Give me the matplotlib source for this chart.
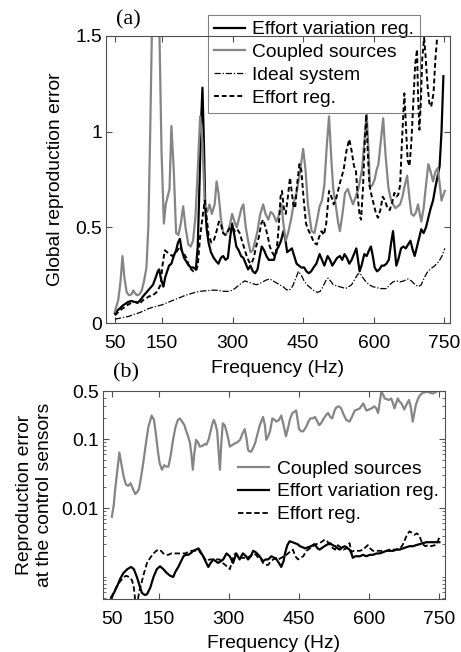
import numpy as np
import matplotlib
matplotlib.use("Agg")
import matplotlib.pyplot as plt
from matplotlib.ticker import LogLocator, NullFormatter, FixedLocator

plt.rcParams['font.family'] = ['Liberation Sans', 'DejaVu Sans']

# ---------------- (a) global reproduction error ----------------
coupled_a_f = [50, 57, 62, 66, 70, 75, 80, 85, 89, 93, 97, 102, 107, 112, 117, 121, 125, 129, 134, 139,
               144, 149, 154, 158, 162, 166, 170, 175, 180, 185, 190, 195, 200, 206, 211, 216, 221, 226,
               231, 236, 241, 246, 251, 256, 262, 266, 270, 275, 280, 285, 290, 295, 299, 304, 309, 314,
               319, 323, 328, 333, 338, 343, 348, 353, 358, 365, 370, 376, 381, 386, 393, 398, 404, 408,
               413, 418, 425, 431, 436, 442, 450, 455, 460, 468, 474, 479, 485, 490, 495, 500, 505, 510,
               514, 519, 524, 528, 533, 539, 545, 550, 556, 562, 568, 575, 580, 585, 589, 592, 597, 602,
               606, 610, 615, 620, 625, 631, 636, 641, 646, 651, 656, 661, 666, 671, 676, 680, 685, 690,
               694, 698, 701, 706, 711, 716, 721, 726, 731, 736, 740, 744, 748, 751]
coupled_a = [0.06, 0.12, 0.22, 0.35, 0.24, 0.16, 0.145, 0.15, 0.17, 0.155, 0.145, 0.15, 0.17, 0.22, 0.29,
             0.5, 1.0, 1.6, 2.3, 2.3, 1.6, 0.9, 0.52, 0.62, 0.66, 0.70, 1.03, 0.8, 0.47, 0.46, 0.52, 0.61,
             0.50, 0.41, 0.40, 0.43, 0.55, 0.8, 1.08, 0.95, 0.61, 0.58, 0.62, 0.57, 0.62, 0.74, 0.68, 0.55,
             0.47, 0.46, 0.48, 0.52, 0.57, 0.53, 0.50, 0.55, 0.60, 0.62, 0.50, 0.43, 0.37, 0.38, 0.43, 0.48,
             0.56, 0.62, 0.57, 0.54, 0.58, 0.57, 0.53, 0.56, 0.62, 0.52, 0.43, 0.47, 0.55, 0.64, 0.68, 0.77,
             0.91, 0.80, 0.62, 0.48, 0.47, 0.53, 0.61, 0.64, 0.72, 0.92, 1.08, 0.85, 0.70, 0.62, 0.53, 0.48,
             0.56, 0.68, 0.70, 0.66, 0.62, 0.66, 0.71, 0.80, 0.95, 1.09, 0.90, 0.71, 0.72, 0.75, 0.80, 0.83,
             0.95, 1.07, 0.88, 0.71, 0.65, 0.62, 0.60, 0.61, 0.62, 0.66, 0.72, 0.77, 0.65, 0.57, 0.56, 0.58,
             0.62, 0.57, 0.53, 0.60, 0.72, 0.83, 0.79, 0.74, 0.79, 0.81, 0.73, 0.64, 0.67, 0.69]

effvar_a_f = [50, 55, 60, 66, 72, 78, 85, 92, 98, 104, 110, 117, 124, 131, 137, 141, 144, 148, 153, 157,
              161, 165, 170, 175, 180, 184, 188, 192, 197, 202, 207, 212, 217, 222, 226, 230, 233, 236,
              239, 242, 245, 249, 254, 260, 266, 270, 275, 280, 285, 290, 295, 299, 303, 308, 313, 318,
              323, 328, 333, 338, 343, 348, 353, 358, 362, 367, 372, 377, 382, 388, 393, 398, 403, 408,
              412, 416, 421, 426, 431, 436, 441, 446, 452, 457, 462, 467, 472, 478, 485, 490, 495, 502,
              507, 512, 517, 522, 528, 533, 538, 543, 548, 553, 558, 563, 567, 570, 574, 580, 585, 590,
              594, 598, 602, 607, 612, 617, 622, 627, 632, 637, 641, 644, 648, 652, 658, 663, 668, 673,
              678, 683, 687, 692, 697, 701, 706, 711, 716, 721, 726, 731, 736, 740, 744, 748]
effvar_a = [0.05, 0.065, 0.075, 0.09, 0.10, 0.11, 0.115, 0.11, 0.105, 0.12, 0.14, 0.16, 0.18, 0.20, 0.24,
            0.27, 0.28, 0.23, 0.19, 0.24, 0.27, 0.30, 0.31, 0.35, 0.38, 0.42, 0.44, 0.38, 0.34, 0.32, 0.30,
            0.29, 0.29, 0.28, 0.40, 0.75, 1.05, 1.23, 0.95, 0.60, 0.49, 0.42, 0.37, 0.34, 0.32, 0.31, 0.34,
            0.35, 0.33, 0.34, 0.45, 0.52, 0.47, 0.40, 0.38, 0.35, 0.34, 0.31, 0.28, 0.30, 0.27, 0.26, 0.28,
            0.35, 0.40, 0.38, 0.35, 0.33, 0.33, 0.33, 0.38, 0.40, 0.43, 0.48, 0.44, 0.37, 0.38, 0.39, 0.35,
            0.31, 0.30, 0.29, 0.29, 0.27, 0.26, 0.27, 0.29, 0.31, 0.36, 0.33, 0.30, 0.35, 0.33, 0.30, 0.32,
            0.34, 0.35, 0.33, 0.36, 0.34, 0.31, 0.33, 0.36, 0.39, 0.32, 0.27, 0.30, 0.36, 0.35, 0.38, 0.40,
            0.35, 0.29, 0.27, 0.28, 0.30, 0.30, 0.31, 0.33, 0.42, 0.48, 0.40, 0.30, 0.33, 0.39, 0.40, 0.39,
            0.41, 0.43, 0.38, 0.35, 0.40, 0.45, 0.49, 0.47, 0.50, 0.55, 0.60, 0.64, 0.71, 0.77, 0.82, 1.00,
            1.29]

ideal_a_f = [50, 60, 70, 80, 90, 100, 110, 120, 130, 140, 150, 160, 170, 180, 190, 200, 210, 220, 230,
             240, 250, 260, 270, 280, 290, 298, 305, 312, 320, 326, 332, 338, 344, 350, 357, 364, 372,
             379, 386, 393, 400, 407, 414, 420, 427, 434, 440, 446, 452, 458, 465, 472, 480, 486, 492,
             498, 503, 508, 514, 520, 527, 534, 540, 547, 553, 560, 566, 571, 576, 582, 590, 598, 606,
             614, 620, 627, 634, 641, 648, 656, 664, 672, 680, 688, 695, 701, 708, 715, 722, 730, 738,
             745, 751]
ideal_a = [0.02, 0.025, 0.03, 0.035, 0.045, 0.052, 0.062, 0.074, 0.082, 0.088, 0.095, 0.105, 0.115, 0.125,
           0.135, 0.145, 0.152, 0.160, 0.165, 0.168, 0.17, 0.172, 0.17, 0.166, 0.165, 0.17, 0.18, 0.195,
           0.21, 0.22, 0.215, 0.21, 0.205, 0.20, 0.205, 0.215, 0.225, 0.23, 0.22, 0.21, 0.20, 0.19, 0.175,
           0.17, 0.19, 0.23, 0.27, 0.25, 0.22, 0.20, 0.185, 0.17, 0.16, 0.165, 0.19, 0.22, 0.235, 0.22,
           0.20, 0.195, 0.19, 0.185, 0.18, 0.19, 0.20, 0.23, 0.255, 0.26, 0.24, 0.22, 0.20, 0.19, 0.185,
           0.18, 0.18, 0.18, 0.20, 0.215, 0.22, 0.215, 0.22, 0.23, 0.22, 0.20, 0.19, 0.20, 0.24, 0.27,
           0.285, 0.30, 0.32, 0.35, 0.39]

effort_a_f = [50, 58, 66, 74, 81, 88, 95, 102, 110, 117, 123, 128, 133, 138, 143, 147, 151, 156, 161, 166,
              172, 177, 183, 188, 192, 197, 202, 207, 212, 217, 222, 226, 231, 236, 241, 245, 249, 255,
              260, 266, 271, 275, 280, 285, 290, 295, 300, 305, 310, 315, 320, 325, 330, 335, 340, 345,
              350, 356, 361, 365, 370, 375, 379, 384, 389, 393, 398, 402, 405, 409, 413, 418, 422, 425,
              429, 433, 437, 442, 446, 451, 456, 462, 468, 473, 479, 484, 489, 494, 499, 505, 510, 515,
              520, 525, 530, 536, 542, 548, 553, 558, 562, 566, 570, 573, 577, 581, 584, 588, 591, 594,
              600, 605, 609, 614, 619, 624, 629, 634, 639, 644, 648, 652, 656, 660, 665, 668, 672, 676,
              680, 684, 688, 692, 694, 697, 700, 703, 707, 710, 714, 718, 722, 727, 731, 735, 738, 745,
              751]
effort_a = [0.04, 0.06, 0.075, 0.09, 0.10, 0.11, 0.11, 0.10, 0.12, 0.13, 0.14, 0.14, 0.15, 0.16, 0.18,
            0.20, 0.30, 0.38, 0.37, 0.36, 0.35, 0.36, 0.38, 0.40, 0.38, 0.36, 0.34, 0.30, 0.28, 0.27, 0.27,
            0.30, 0.45, 0.55, 0.64, 0.55, 0.46, 0.42, 0.43, 0.48, 0.53, 0.52, 0.47, 0.46, 0.48, 0.50, 0.50,
            0.48, 0.49, 0.47, 0.43, 0.39, 0.35, 0.32, 0.31, 0.34, 0.40, 0.45, 0.52, 0.54, 0.50, 0.45, 0.40,
            0.37, 0.35, 0.36, 0.50, 0.66, 0.69, 0.60, 0.57, 0.67, 0.76, 0.70, 0.62, 0.60, 0.72, 0.83, 0.80,
            0.65, 0.52, 0.48, 0.45, 0.42, 0.41, 0.45, 0.48, 0.46, 0.52, 0.69, 0.66, 0.62, 0.65, 0.70, 0.75,
            0.80, 0.90, 0.96, 0.90, 0.82, 0.80, 0.66, 0.56, 0.54, 0.70, 0.95, 1.09, 0.85, 0.72, 0.68, 0.62,
            0.57, 0.55, 0.59, 0.66, 0.64, 0.60, 0.59, 0.63, 0.68, 0.66, 0.67, 0.72, 0.95, 1.20, 1.05, 0.85,
            0.82, 0.95, 1.15, 1.35, 1.43, 1.20, 1.01, 1.15, 1.38, 1.49, 1.40, 1.25, 1.15, 1.13, 1.20, 1.38,
            1.50, 1.62, 1.70, 1.75]

# ---------------- (b) reproduction error at the control sensors ----------------
coupled_b_f = [50, 54, 57, 61, 66, 70, 75, 80, 85, 90, 95, 100, 104, 108, 113, 117, 122, 128, 135, 140,
               144, 148, 152, 157, 162, 166, 171, 176, 181, 186, 191, 195, 200, 205, 209, 213, 217, 220,
               223, 226, 230, 234, 238, 244, 248, 252, 257, 261, 265, 268, 272, 275, 278, 281, 284, 287,
               291, 295, 299, 302, 307, 313, 318, 324, 329, 334, 338, 341, 345, 348, 352, 356, 360, 365,
               369, 373, 377, 380, 384, 388, 393, 398, 402, 407, 412, 417, 422, 427, 431, 436, 440, 444,
               450, 455, 459, 465, 470, 474, 479, 484, 489, 493, 497, 501, 507, 512, 517, 521, 526, 530,
               535, 540, 545, 551, 558, 563, 569, 575, 580, 587, 591, 594, 600, 605, 611, 615, 619, 623,
               626, 630, 633, 638, 642, 647, 651, 654, 658, 661, 665, 669, 675, 680, 685, 689, 693, 697,
               700, 704, 707, 711, 714, 720, 725, 730, 736, 742, 746, 750]
coupled_b = [0.0075, 0.011, 0.0186, 0.032, 0.064, 0.045, 0.029, 0.022, 0.021, 0.023, 0.019, 0.016, 0.017,
             0.019, 0.03, 0.045, 0.08, 0.15, 0.22, 0.19, 0.12, 0.07, 0.045, 0.036, 0.042, 0.04, 0.040, 0.06,
             0.1, 0.15, 0.19, 0.2, 0.18, 0.16, 0.13, 0.11, 0.087, 0.06, 0.036, 0.06, 0.098, 0.09, 0.078,
             0.08, 0.085, 0.083, 0.1, 0.13, 0.17, 0.19, 0.16, 0.13, 0.07, 0.036, 0.09, 0.17, 0.16, 0.13,
             0.1, 0.078, 0.082, 0.087, 0.09, 0.098, 0.12, 0.14, 0.1, 0.07, 0.066, 0.066, 0.075, 0.087,
             0.11, 0.15, 0.18, 0.21, 0.16, 0.098, 0.11, 0.13, 0.2, 0.19, 0.18, 0.19, 0.22, 0.16, 0.11,
             0.15, 0.2, 0.24, 0.25, 0.26, 0.14, 0.13, 0.13, 0.15, 0.18, 0.2, 0.2, 0.21, 0.18, 0.16, 0.17,
             0.19, 0.22, 0.24, 0.21, 0.2, 0.26, 0.29, 0.30, 0.28, 0.23, 0.19, 0.18, 0.21, 0.26, 0.27,
             0.28, 0.33, 0.29, 0.26, 0.27, 0.28, 0.30, 0.28, 0.24, 0.36, 0.49, 0.44, 0.39, 0.38, 0.37,
             0.39, 0.33, 0.28, 0.34, 0.39, 0.35, 0.33, 0.27, 0.32, 0.37, 0.29, 0.18, 0.25, 0.32, 0.38,
             0.42, 0.45, 0.47, 0.48, 0.49, 0.47, 0.46, 0.48, 0.50, 0.51]

effvar_b_f = [48, 55, 61, 68, 75, 83, 91, 97, 103, 108, 114, 120, 125, 132, 139, 146, 153, 160, 167, 174,
              181, 186, 192, 198, 203, 208, 213, 218, 224, 230, 235, 240, 245, 250, 256, 261, 267, 272,
              277, 283, 288, 295, 302, 309, 316, 323, 330, 337, 341, 347, 352, 357, 363, 368, 373, 379,
              384, 391, 397, 402, 407, 412, 417, 420, 425, 430, 436, 441, 447, 452, 458, 463, 469, 476,
              483, 490, 494, 501, 508, 516, 522, 527, 533, 537, 543, 548, 554, 558, 562, 565, 570, 576,
              580, 587, 594, 601, 608, 616, 622, 630, 637, 644, 651, 658, 665, 672, 679, 686, 694, 700,
              708, 715, 722, 729, 736, 743, 750]
effvar_b = [0.0005, 0.0006, 0.00073, 0.00095, 0.00115, 0.0013, 0.0014, 0.0013, 0.00102, 0.0008, 0.00059,
            0.00055, 0.00056, 0.0007, 0.001, 0.0013, 0.00143, 0.0013, 0.00115, 0.00105, 0.001, 0.0012,
            0.0014, 0.0017, 0.002, 0.0021, 0.0021, 0.0022, 0.0024, 0.0025, 0.0026, 0.0023, 0.002, 0.0017,
            0.0014, 0.0016, 0.0018, 0.0017, 0.0016, 0.0017, 0.0018, 0.0022, 0.002, 0.0016, 0.0022, 0.0018,
            0.0022, 0.002, 0.0018, 0.002, 0.0024, 0.0023, 0.0021, 0.0019, 0.0017, 0.0018, 0.0018, 0.002,
            0.0019, 0.0018, 0.0016, 0.0014, 0.0017, 0.0022, 0.0029, 0.0033, 0.0032, 0.0031, 0.003, 0.0028,
            0.0027, 0.0026, 0.0027, 0.0028, 0.003, 0.0026, 0.0025, 0.0027, 0.0029, 0.0031, 0.0029, 0.0028,
            0.0026, 0.0025, 0.0027, 0.0028, 0.0026, 0.0025, 0.0022, 0.0019, 0.002, 0.002, 0.002, 0.0021,
            0.002, 0.0021, 0.0021, 0.0022, 0.0022, 0.0023, 0.0024, 0.0024, 0.0024, 0.0025, 0.0025, 0.0026,
            0.0027, 0.0028, 0.0028, 0.0029, 0.003, 0.0031, 0.0032, 0.0032, 0.0032, 0.0032, 0.0032]

effort_b_f = [50, 54, 61, 68, 75, 81, 87, 93, 97, 100, 104, 108, 113, 118, 125, 132, 139, 145, 150, 155,
              160, 166, 171, 177, 184, 192, 199, 206, 213, 220, 228, 235, 240, 245, 252, 259, 266, 273,
              280, 287, 292, 297, 302, 306, 310, 314, 319, 324, 331, 338, 345, 352, 358, 363, 369, 373,
              379, 384, 390, 395, 401, 406, 412, 418, 423, 430, 437, 442, 448, 453, 459, 466, 473, 480,
              487, 494, 500, 505, 510, 515, 520, 527, 533, 539, 545, 551, 555, 558, 562, 567, 573, 580,
              587, 592, 597, 602, 608, 615, 623, 630, 637, 644, 651, 658, 665, 670, 675, 680, 686, 691,
              697, 702, 707, 711, 714, 720, 726, 733, 740, 745, 751]
effort_b = [0.0005, 0.00059, 0.00075, 0.00087, 0.001, 0.00104, 0.001, 0.0009, 0.0007, 0.00045, 0.0004,
            0.0006, 0.0008, 0.0011, 0.0016, 0.0019, 0.0022, 0.0024, 0.0025, 0.0024, 0.0022, 0.0021,
            0.0021, 0.0022, 0.0022, 0.0022, 0.0022, 0.0022, 0.0023, 0.0024, 0.0024, 0.0025, 0.0022, 0.002,
            0.0017, 0.0018, 0.0018, 0.0018, 0.0018, 0.0016, 0.0015, 0.0014, 0.0013, 0.0016, 0.002, 0.0022,
            0.002, 0.0019, 0.0019, 0.0019, 0.002, 0.0022, 0.0021, 0.0019, 0.0018, 0.0016, 0.0015, 0.0015,
            0.0017, 0.0018, 0.0019, 0.0018, 0.0019, 0.002, 0.0021, 0.0023, 0.0025, 0.002, 0.0018, 0.0019,
            0.002, 0.0024, 0.0026, 0.0028, 0.003, 0.0031, 0.0033, 0.0035, 0.0033, 0.003, 0.0027, 0.0025,
            0.0029, 0.0027, 0.0025, 0.0026, 0.0029, 0.0031, 0.0023, 0.0024, 0.0024, 0.0024, 0.0025, 0.0027,
            0.0029, 0.0026, 0.0024, 0.0024, 0.0024, 0.0024, 0.0024, 0.0025, 0.0025, 0.0025, 0.0026, 0.0028,
            0.0033, 0.004, 0.0046, 0.0044, 0.0041, 0.0043, 0.004, 0.0034, 0.003, 0.0028, 0.0029, 0.0028,
            0.0029, 0.0031, 0.0039]

freq_ticks = [50, 150, 300, 450, 600, 750]
top_yticks = [0, 0.5, 1, 1.5]
top_yticklabels = ['0', '0.5', '1', '1.5']
bot_yticks = [0.01, 0.1, 0.5]
bot_yticklabels = ['0.01', '0.1', '0.5']

GRAY = '#858585'
FS = 13.9

fig = plt.figure(figsize=(4.61, 6.52), dpi=100)
ax1 = fig.add_axes([0.2299, 0.5046, 0.7462, 0.4402])
ax2 = fig.add_axes([0.2234, 0.0813, 0.7419, 0.3190])


def style_axes(ax):
    for sp in ax.spines.values():
        sp.set_color('#505050')
        sp.set_linewidth(0.8)
    ax.tick_params(which='both', direction='in', top=True, right=True,
                   labelsize=FS, color='#505050')
    ax.tick_params(axis='x', pad=8.5)
    ax.tick_params(axis='y', pad=3)
    ax.tick_params(which='major', length=4)
    ax.tick_params(which='minor', length=2)


# panel (a)
l_ev, = ax1.plot(effvar_a_f, effvar_a, color='black', lw=1.6)
l_cs, = ax1.plot(coupled_a_f, coupled_a, color=GRAY, lw=1.6)
l_id, = ax1.plot(ideal_a_f, ideal_a, color='black', lw=0.9, ls=(0, (5, 1.5, 1, 1.5)))
l_ef, = ax1.plot(effort_a_f, effort_a, color='black', lw=1.4, ls=(0, (2.5, 1.5)))
ax1.set_xlim(31, 762)
ax1.set_ylim(0, 1.5)
ax1.set_xticks(freq_ticks)
ax1.set_yticks(top_yticks)
ax1.set_yticklabels(top_yticklabels)
style_axes(ax1)
ax1.set_xlabel('Frequency (Hz)', fontsize=FS, labelpad=6)
ax1.set_ylabel('Global reproduction error', fontsize=FS, labelpad=8)
leg1 = ax1.legend([l_ev, l_cs, l_id, l_ef],
                  ['Effort variation reg.', 'Coupled sources', 'Ideal system', 'Effort reg.'],
                  loc='upper left', bbox_to_anchor=(208 / 461, 1 - 15 / 652),
                  bbox_transform=fig.transFigure, fontsize=FS, frameon=True, fancybox=False,
                  edgecolor='#606060', facecolor='none', handlelength=1.6, handletextpad=0.4,
                  labelspacing=0.28, borderpad=0.3, borderaxespad=0)
leg1.get_frame().set_linewidth(0.8)
leg1.set_zorder(1)
fig.text(116 / 461, 1 - 20 / 652, '(a)', family=['Liberation Serif', 'DejaVu Serif'],
         fontsize=16, ha='left', va='center')

# panel (b)
m_cs, = ax2.plot(coupled_b_f, coupled_b, color=GRAY, lw=1.6)
m_ev, = ax2.plot(effvar_b_f, effvar_b, color='black', lw=1.6)
m_ef, = ax2.plot(effort_b_f, effort_b, color='black', lw=1.3, ls=(0, (3, 1.5)))
ax2.set_yscale('log')
ax2.set_xlim(31, 762)
ax2.set_ylim(4.8e-4, 0.5)
ax2.set_xticks(freq_ticks)
ax2.yaxis.set_major_locator(FixedLocator(bot_yticks))
ax2.set_yticklabels(bot_yticklabels)
ax2.yaxis.set_minor_locator(LogLocator(base=10, subs=np.arange(1, 10)))
ax2.yaxis.set_minor_formatter(NullFormatter())
style_axes(ax2)
ax2.set_xlabel('Frequency (Hz)', fontsize=FS, labelpad=5)
ax2.set_ylabel('Reproduction error\nat the control sensors', fontsize=FS, labelpad=6,
               linespacing=1.2)
ax2.legend([m_cs, m_ev, m_ef], ['Coupled sources', 'Effort variation reg.', 'Effort reg.'],
           loc='upper left', bbox_to_anchor=(238 / 461, 1 - 460 / 652),
           bbox_transform=fig.transFigure, fontsize=FS, frameon=False,
           handlelength=1.6, handletextpad=0.4, labelspacing=0.28, borderpad=0, borderaxespad=0)
fig.text(113 / 461, 1 - 373 / 652, '(b)', family=['Liberation Serif', 'DejaVu Serif'],
         fontsize=16, ha='left', va='center')

fig.savefig('out.png', dpi=100)
